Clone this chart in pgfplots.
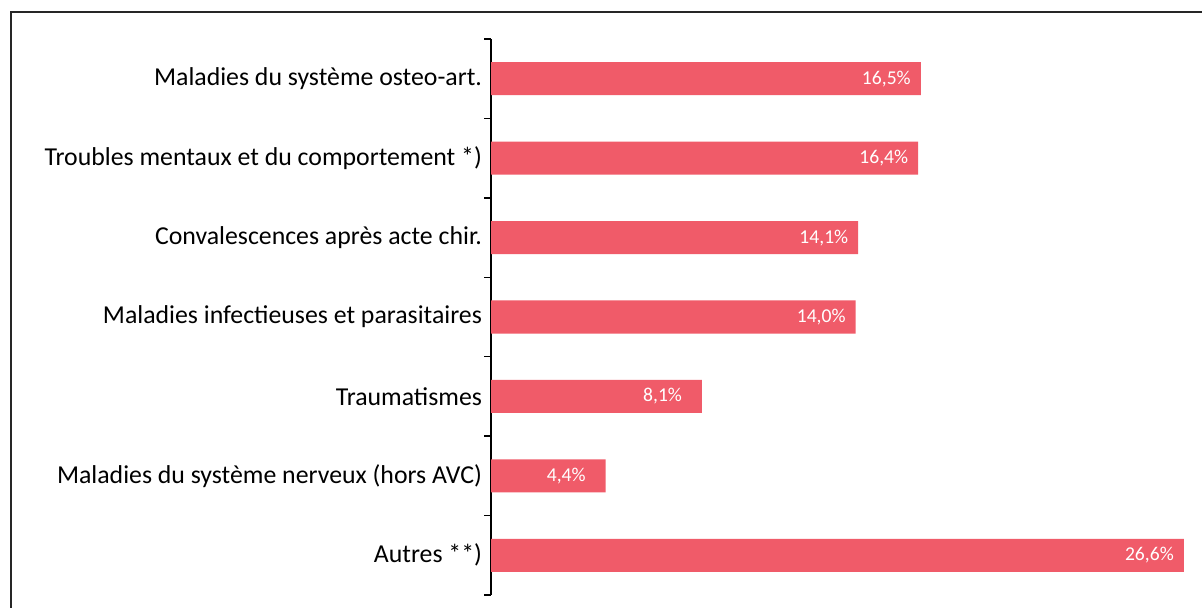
\documentclass[border=0pt]{standalone}
\usepackage{pgfplots}
\pgfplotsset{compat=1.18}
\usepackage{fontspec}
\setmainfont{Carlito}
\definecolor{barc}{HTML}{F05B69}
\begin{document}
\begin{tikzpicture}[x=0.5pt,y=0.5pt]
\path[use as bounding box] (0,0) rectangle (1202,608);
\begin{scope}
\clip (0,0) rectangle (1202,608);
\draw[line width=1pt, black!85] (11,-20) -- (11,596) -- (1230,596);
\end{scope}
\begin{axis}[
  at={(245.5pt,6.5pt)}, anchor=south west,
  scale only axis, width=352pt, height=278pt,
  xbar, bar width=16.5pt,
  xmin=0, xmax=27.03,
  ymin=-0.5, ymax=6.5, y dir=reverse,
  hide x axis,
  axis y line*=left,
  axis line style={line width=0.75pt, black},
  ytick={0,...,6},
  yticklabels={Maladies du système osteo-art.,Troubles mentaux et du comportement *),Convalescences après acte chir.,Maladies infectieuses et parasitaires,Traumatismes,Maladies du système nerveux (hors AVC),Autres **)},
  yticklabel style={font=\fontsize{12.9}{14}\selectfont, xshift=-1pt},
  major tick length=0pt,
  minor ytick={-0.5,0.5,...,6.5},
  minor tick length=3.5pt,
  tick align=outside,
  minor tick style={line width=0.75pt, black},
  point meta=explicit symbolic,
  nodes near coords,
  nodes near coords style={anchor=east, xshift=-1.5pt, text=white, font=\fontsize{9.8}{11}\selectfont},
  clip=false,
]
\addplot[fill=barc, draw=none] coordinates {
(16.5,0) [16,5\%]
(16.4,1) [16,4\%]
(14.1,2) [14,1\%]
(14.0,3) [14,0\%]
(8.1,4) [8,1\%\hphantom{0}]
(4.4,5) [4,4\%\hphantom{0}]
(26.6,6) [26,6\%]
};
\end{axis}
\end{tikzpicture}
\end{document}
